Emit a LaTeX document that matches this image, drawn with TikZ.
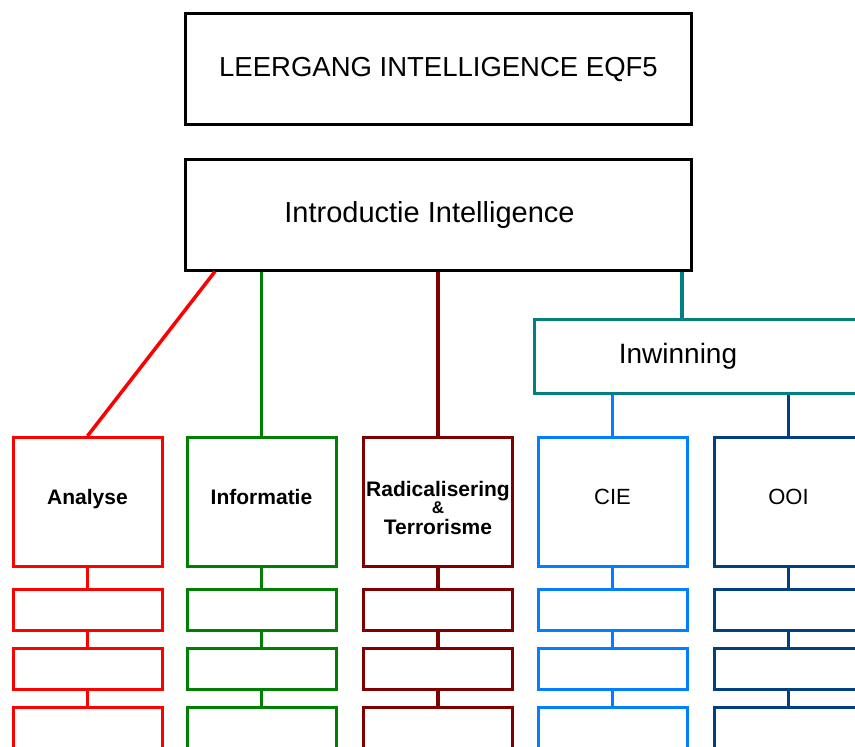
\documentclass[tikz,border=0pt]{standalone}
\usepackage{fontspec}
\setmainfont{Liberation Sans}
\usepackage{tikz}
\usetikzlibrary{positioning}

\begin{document}
\begin{tikzpicture}[x=1pt,y=-1pt,
    box/.style={draw, line width=3pt, fill=white, inner sep=0pt, align=center},
    topbox/.style={box, minimum width=506pt, minimum height=111pt, font=\fontsize{27.5}{32}\selectfont},
    unitbox/.style={box, minimum width=149pt, minimum height=129pt, text height=15pt, text depth=10pt,
      font=\bfseries\fontsize{21}{19}\selectfont},
    subbox/.style={box, minimum width=149pt, minimum height=41pt},
    link/.style={line width=3.5pt}]
        \definecolor{colorA}{RGB}{255,0,0}
        \definecolor{colorB}{RGB}{0,128,0}
        \definecolor{colorC}{RGB}{128,0,0}
        \definecolor{colorD}{RGB}{0,128,128}
        \definecolor{colorE}{RGB}{0,128,255}
        \definecolor{colorF}{RGB}{0,64,128}

        \useasboundingbox (0,0) rectangle (855,747);
        \clip (0,0) rectangle (855,747);

        % top of the tree
        \node[topbox] (leergang) at (438.5,69) {LEERGANG INTELLIGENCE EQF5};
        \node[topbox, label={[xshift=-9pt, font=\fontsize{29}{32}\selectfont]center:Introductie Intelligence}] (intro) at (438.5,214.5) {};
        \node[box, draw=colorD, minimum width=365pt, minimum height=74pt,
          label={[xshift=-39pt, font=\fontsize{28}{32}\selectfont]center:Inwinning}] (inwinning) at (717,356.5) {};

        % modules
        \node[unitbox, draw=colorA] (analyse) at (87.5,502) {Analyse};
        \node[unitbox, draw=colorB] (informatie) at (261.5,502) {Informatie};
        \node[unitbox, draw=colorC, text height=65pt, text depth=0pt] (radicalisering) at (438,502)
          {Radicalisering\\[-2pt]{\fontsize{17}{17}\selectfont\&}\\[2pt]Terrorisme};
        \node[unitbox, draw=colorE, font=\fontsize{22}{26}\selectfont] (cie) at (612.5,502) {CIE};
        \node[unitbox, draw=colorF, font=\fontsize{22}{26}\selectfont] (ooi) at (788.5,502) {OOI};

        % links to the modules
        \draw[link, colorA] (analyse.north) -- ([xshift=31pt]intro.south west);
        \draw[link, colorB] (informatie.north) -- (informatie.north |- intro.south);
        \draw[link, colorC] (radicalisering.north) -- (radicalisering.north |- intro.south);
        \coordinate (tealjoin) at ([xshift=149pt]inwinning.north west);
        \draw[link, colorD] (tealjoin) -- (tealjoin |- intro.south);
        \draw[link, colorE] (cie.north) -- (cie.north |- inwinning.south);
        \draw[link, colorF] (ooi.north) -- (ooi.north |- inwinning.south);

        % empty boxes under each module
        \foreach \unit/\clr in {analyse/colorA, informatie/colorB, radicalisering/colorC, cie/colorE, ooi/colorF} {
          \node[subbox, draw=\clr, below=20pt of \unit] (\unit-1) {};
          \node[subbox, draw=\clr, below=15pt of \unit-1] (\unit-2) {};
          \node[subbox, draw=\clr, below=15pt of \unit-2] (\unit-3) {};
          \draw[link, \clr] (\unit.south) -- (\unit-1.north);
          \draw[link, \clr] (\unit-1.south) -- (\unit-2.north);
          \draw[link, \clr] (\unit-2.south) -- (\unit-3.north);
        }
\end{tikzpicture}
\end{document}
